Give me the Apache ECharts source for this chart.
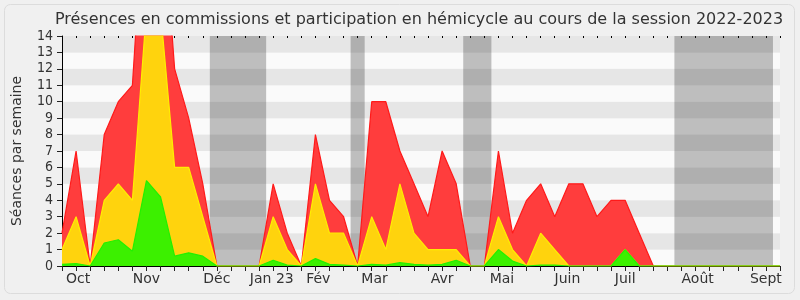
<!DOCTYPE html>
<html>
<head>
<meta charset="utf-8">
<script src="https://cdn.jsdelivr.net/npm/echarts@6/dist/echarts.min.js"></script>
<style>html,body{margin:0;padding:0;background:#f0f0f0;}#c{width:800px;height:300px;}</style>
</head>
<body>
<div id="c"></div>
<script>
// week index 0..51 of the 2022-2023 session
const weeks = Array.from({length: 52}, (_, i) => i);
const hemicycle = [2, 7, 0, 8, 10, 11, 24.5, 23.5, 12, 9, 5, 0, 0, 0, 0, 5, 2, 0, 8, 4, 3, 0, 10, 10, 7, 5, 3, 7, 5, 0, 0, 7, 2, 4, 5, 3, 5, 5, 3, 4, 4, 2, 0, 0, 0, 0, 0, 0, 0, 0, 0, 0];
const commissions = [1, 3, 0, 4, 5, 4, 15.6, 15.5, 6, 6, 3, 0, 0, 0, 0, 3, 1, 0, 5, 2, 2, 0, 3, 1, 5, 2, 1, 1, 1, 0, 0, 3, 1, 0, 2, 1, 0, 0, 0, 0, 1, 0, 0, 0, 0, 0, 0, 0, 0, 0, 0, 0];
const interventions = [0.1, 0.15, 0, 1.4, 1.6, 0.9, 5.2, 4.2, 0.6, 0.8, 0.6, 0, 0, 0, 0, 0.35, 0.05, 0, 0.45, 0.1, 0.05, 0, 0.1, 0.05, 0.2, 0.1, 0.05, 0.1, 0.35, 0, 0, 1, 0.3, 0, 0.05, 0.05, 0, 0, 0, 0, 1, 0, 0, 0, 0, 0, 0, 0, 0, 0, 0, 0];
const monthLabels = ['Oct', 'Nov', 'Déc', 'Jan 23', 'Fév', 'Mar', 'Avr', 'Mai', 'Juin', 'Juil', 'Août', 'Sept'];
const monthWeeks = [1.15, 6, 11, 14.9, 18.2, 22.2, 27, 31.25, 35.9, 40, 45.15, 50];
const vacations = [[10.5, 14.5], [20.5, 21.5], [28.5, 30.5], [43.5, 50.5]];
const yTicks = [0, 14, 1];

const FONT = "'DejaVu Sans', sans-serif";
const NUMFONT = "'DejaVu Sans Condensed', 'DejaVu Sans', sans-serif";
const pair = a => weeks.map((w, i) => [w, a[i]]);

const chart = echarts.init(document.getElementById('c'), null, {renderer: 'canvas'});
chart.setOption({
  backgroundColor: '#f0f0f0',
  animation: false,
  textStyle: {fontFamily: FONT},
  title: {
    text: 'Présences en commissions et participation en hémicycle au cours de la session 2022-2023',
    left: 414, top: 7, textAlign: 'center',
    textStyle: {fontFamily: FONT, fontSize: 16, fontWeight: 'normal', color: '#333'}
  },
  graphic: [{
    type: 'rect', z: -10, silent: true,
    shape: {x: 4.5, y: 4.5, width: 790, height: 289, r: 6},
    style: {fill: 'none', stroke: '#dcdcdc', lineWidth: 1}
  }],
  grid: {left: 62, right: 20, top: 36, bottom: 34, outerBoundsMode: 'none', containLabel: false},
  xAxis: [{
    type: 'value', min: 0, max: 51, interval: 1,
    axisLine: {show: true, lineStyle: {color: '#000', width: 1}},
    axisTick: {show: true, length: 5, lineStyle: {color: '#222'}},
    splitLine: {show: false},
    axisLabel: {
      customValues: monthWeeks,
      formatter: v => {
        let best = 0;
        monthWeeks.forEach((m, i) => { if (Math.abs(m - v) < Math.abs(monthWeeks[best] - v)) best = i; });
        return monthLabels[best];
      },
      fontSize: 14, color: '#333', margin: 6, fontFamily: FONT
    }
  }, {
    type: 'value', min: 0, max: 51, interval: 1, position: 'top',
    axisLine: {show: false},
    axisTick: {show: true, inside: true, length: 2, lineStyle: {color: '#000'}},
    axisLabel: {show: false},
    splitLine: {show: false}
  }],
  yAxis: {
    type: 'value', min: yTicks[0], max: yTicks[1], interval: yTicks[2],
    name: 'Séances par semaine', nameLocation: 'middle', nameGap: 38, nameRotate: 90,
    nameTextStyle: {fontSize: 14, color: '#333', fontFamily: FONT},
    axisLine: {show: true, lineStyle: {color: '#000', width: 1}},
    axisTick: {show: true, length: 5, lineStyle: {color: '#222'}},
    axisLabel: {fontSize: 14, color: '#333', margin: 9, fontFamily: NUMFONT},
    splitLine: {show: false},
    splitArea: {show: true, areaStyle: {color: ['#fafafa', '#e6e6e6']}}
  },
  series: [{
    type: 'line', data: [], z: 1, silent: true,
    markArea: {
      silent: true,
      itemStyle: {color: 'rgba(10,10,10,0.25)'},
      data: vacations.map(v => [{xAxis: v[0]}, {xAxis: v[1]}])
    }
  }, {
    name: 'Hémicycle', type: 'line', data: pair(hemicycle), z: 3, symbol: 'none',
    lineStyle: {color: '#ff1a1a', width: 1.2},
    areaStyle: {color: '#ff3d3d', opacity: 1}
  }, {
    name: 'Commissions', type: 'line', data: pair(commissions), z: 4, symbol: 'none',
    lineStyle: {color: '#ffee00', width: 1.2},
    areaStyle: {color: '#ffd30d', opacity: 1}
  }, {
    name: 'Interventions', type: 'line', data: pair(interventions), z: 5, symbol: 'none',
    lineStyle: {color: '#22f000', width: 1.2},
    areaStyle: {color: '#3cf000', opacity: 1}
  }]
});
</script>
</body>
</html>
